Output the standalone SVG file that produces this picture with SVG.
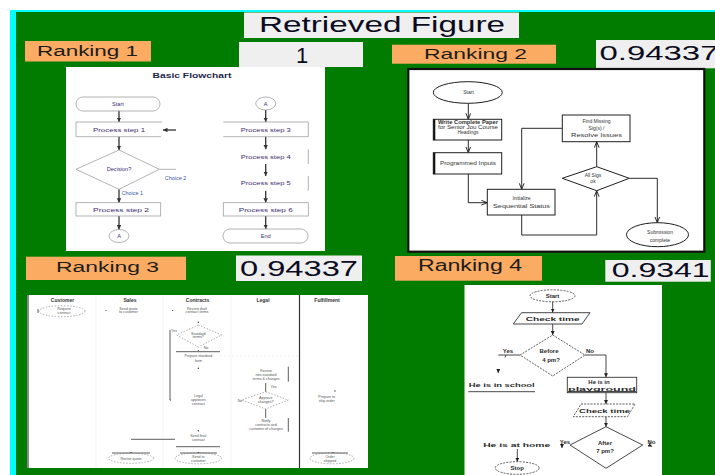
<svg xmlns="http://www.w3.org/2000/svg" width="715" height="475" viewBox="0 0 715 475">
<style>
  .sans { font-family: "Liberation Sans", Arial, "DejaVu Sans", sans-serif; }
  .hdr { fill: #efefef; }
  .rank { fill: #fbab62; }
  .rank-t { fill: #1c1c1c; }
  .score-t { fill: #0b0b20; }
  .panel { fill: #ffffff; }
  /* panel 1: basic flowchart */
  .p1-shape { fill: none; stroke: #a0a0a0; stroke-width: 0.8; }
  .p1-line { fill: none; stroke: #333333; stroke-width: 1.3; }
  .p1-t { font-size: 5.6px; fill: #3e2d72; text-anchor: middle; }
  .p1-c { font-size: 5.4px; fill: #3b55a8; }
  /* panel 2: review process */
  .p2-shape { fill: #ffffff; stroke: #1e1e1e; stroke-width: 1; }
  .p2-line { fill: none; stroke: #2a2a2a; stroke-width: 1; }
  .p2-t { font-size: 5px; fill: #333333; text-anchor: middle; }
  /* panel 3: swimlanes */
  .p3-h { font-size: 5px; font-weight: bold; fill: #333333; text-anchor: middle; }
  .p3-t { font-size: 3.6px; fill: #555555; text-anchor: middle; }
  .p3-dash { fill: none; stroke: #777777; stroke-width: 0.6; stroke-dasharray: 1.5 1.5; }
  .p3-line { fill: none; stroke: #333333; stroke-width: 0.8; }
  .p3-dot { fill: #333333; }
  /* panel 4: time check */
  .p4-shape { fill: none; stroke: #333333; stroke-width: 0.9; }
  .p4-dash { fill: none; stroke: #333333; stroke-width: 0.8; stroke-dasharray: 2 1.2; }
  .p4-line { fill: none; stroke: #333333; stroke-width: 0.9; }
  .p4-t { font-size: 6px; font-weight: bold; fill: #2a2a2a; text-anchor: middle; }
</style>
<defs>
  <marker id="ah1" viewBox="0 0 10 10" refX="10" refY="5" markerWidth="4.5" markerHeight="4.5" markerUnits="userSpaceOnUse" orient="auto">
    <path d="M0 0 L10 5 L0 10 z" fill="#333333"/>
  </marker>
  <marker id="ah2" viewBox="0 0 10 10" refX="10" refY="5" markerWidth="6" markerHeight="6" markerUnits="userSpaceOnUse" orient="auto">
    <path d="M0 1 L10 5 L0 9" fill="none" stroke="#222222" stroke-width="1.6"/>
  </marker>
  <marker id="ah4" viewBox="0 0 10 10" refX="10" refY="5" markerWidth="4" markerHeight="4" markerUnits="userSpaceOnUse" orient="auto">
    <path d="M0 0 L10 5 L0 10 z" fill="#222222"/>
  </marker>
</defs>

<!-- page frame -->
<rect x="0" y="0" width="715" height="475" fill="#ffffff"/>
<rect x="10" y="10" width="705" height="465" fill="#00ffff"/>
<rect x="16" y="12" width="699" height="463" fill="#017c01"/>

<!-- title and ranking labels -->
<g id="title">
  <rect class="hdr" x="244" y="12.5" width="275" height="25.5"/>
  <text class="sans score-t" x="259" y="31.8" font-size="22" textLength="246" lengthAdjust="spacingAndGlyphs">Retrieved Figure</text>
</g>
<g id="rank1">
  <rect class="rank" x="25" y="41" width="126" height="20.5"/>
  <text class="sans rank-t" x="37" y="56" font-size="15.5" textLength="101" lengthAdjust="spacingAndGlyphs">Ranking 1</text>
</g>
<g id="score1">
  <rect class="hdr" x="239" y="42" width="124" height="25"/>
  <text class="sans score-t" x="302" y="63.3" font-size="22" text-anchor="middle">1</text>
</g>
<g id="rank2">
  <rect class="rank" x="392" y="44.7" width="164" height="19"/>
  <text class="sans rank-t" x="424" y="59.3" font-size="14.5" textLength="103" lengthAdjust="spacingAndGlyphs">Ranking 2</text>
</g>
<g id="score2">
  <rect class="hdr" x="596" y="40" width="120" height="28.3"/>
  <text class="sans score-t" x="599.5" y="59.6" font-size="21" textLength="119" lengthAdjust="spacingAndGlyphs">0.94337</text>
</g>
<g id="rank3">
  <rect class="rank" x="26" y="256.7" width="160" height="23.3"/>
  <text class="sans rank-t" x="56" y="271.7" font-size="15.5" textLength="103" lengthAdjust="spacingAndGlyphs">Ranking 3</text>
</g>
<g id="score3">
  <rect class="hdr" x="236" y="255.5" width="126" height="25.5"/>
  <text class="sans score-t" x="240" y="275.7" font-size="22.5" textLength="118" lengthAdjust="spacingAndGlyphs">0.94337</text>
</g>
<g id="rank4">
  <rect class="rank" x="395" y="256" width="147" height="24.7"/>
  <text class="sans rank-t" x="418" y="270.7" font-size="16" textLength="104" lengthAdjust="spacingAndGlyphs">Ranking 4</text>
</g>
<g id="score4">
  <rect class="hdr" x="605.3" y="260" width="105.5" height="21.7"/>
  <text class="sans score-t" x="611.7" y="276.7" font-size="21" textLength="98" lengthAdjust="spacingAndGlyphs">0.9341</text>
</g>

<!-- ===== panel 1: Basic Flowchart ===== -->
<g id="panel1" class="sans">
  <rect class="panel" x="66" y="67" width="259" height="184"/>
  <text x="192" y="77.5" font-size="8" font-weight="bold" fill="#1d2a4a" text-anchor="middle" textLength="79" lengthAdjust="spacingAndGlyphs">Basic Flowchart</text>

  <g id="p1-connectors">
    <line class="p1-line" x1="119" y1="110.7" x2="119" y2="122" marker-end="url(#ah1)"/>
    <line class="p1-line" x1="176" y1="130" x2="163" y2="130" marker-end="url(#ah1)"/>
    <line class="p1-line" x1="119" y1="136.7" x2="119" y2="150" marker-end="url(#ah1)"/>
    <line class="p1-shape" x1="159.3" y1="169.3" x2="176" y2="169.3"/>
    <line class="p1-line" x1="119" y1="189.3" x2="119" y2="202.7" marker-end="url(#ah1)"/>
    <line class="p1-line" x1="119" y1="216" x2="119" y2="229.5" marker-end="url(#ah1)"/>
    <line class="p1-line" x1="265.7" y1="110" x2="265.7" y2="122" marker-end="url(#ah1)"/>
    <line class="p1-line" x1="265.7" y1="136.7" x2="265.7" y2="149.3" marker-end="url(#ah1)"/>
    <line class="p1-line" x1="265.7" y1="164" x2="265.7" y2="176" marker-end="url(#ah1)"/>
    <line class="p1-line" x1="265.7" y1="190.7" x2="265.7" y2="202.7" marker-end="url(#ah1)"/>
    <line class="p1-line" x1="265.7" y1="216" x2="265.7" y2="229" marker-end="url(#ah1)"/>
  </g>

  <g id="p1-start">
    <rect class="p1-shape" x="76" y="97" width="84" height="14" rx="7"/>
    <text class="p1-t" x="118" y="105.5" fill="#5a4fa0">Start</text>
  </g>
  <g id="p1-step1">
    <path class="p1-shape" d="M162 122 H76 V136.7 H161"/>
    <text class="p1-t" x="119" y="132" textLength="52" lengthAdjust="spacingAndGlyphs">Process step 1</text>
  </g>
  <g id="p1-decision">
    <path class="p1-shape" d="M119 150 L159.3 169.3 L119 189.3 L76 169.3 Z"/>
    <text class="p1-t" x="119" y="171.3">Decision?</text>
    <text class="p1-c" x="175.5" y="180" text-anchor="middle">Choice 2</text>
    <text class="p1-c" x="121.7" y="195">Choice 1</text>
  </g>
  <g id="p1-step2">
    <rect class="p1-shape" x="76" y="202.7" width="84.7" height="13.3"/>
    <text class="p1-t" x="121" y="211.5" textLength="56" lengthAdjust="spacingAndGlyphs">Process step 2</text>
  </g>
  <g id="p1-conn-a1">
    <ellipse class="p1-shape" cx="119" cy="236" rx="10" ry="6.5"/>
    <text class="p1-t" x="119" y="238">A</text>
  </g>
  <g id="p1-conn-a2">
    <ellipse class="p1-shape" cx="265.7" cy="103.5" rx="10" ry="6.5"/>
    <text class="p1-t" x="265.7" y="105.5">A</text>
  </g>
  <g id="p1-step3">
    <path class="p1-shape" d="M223.3 122 H308.3 V136.7 H223.3"/>
    <text class="p1-t" x="265.7" y="132" textLength="50" lengthAdjust="spacingAndGlyphs">Process step 3</text>
  </g>
  <g id="p1-step4">
    <line class="p1-shape" x1="308.3" y1="149.3" x2="308.3" y2="164"/>
    <text class="p1-t" x="265.7" y="158.7" textLength="50" lengthAdjust="spacingAndGlyphs">Process step 4</text>
  </g>
  <g id="p1-step5">
    <line class="p1-shape" x1="308.3" y1="176" x2="308.3" y2="190.7"/>
    <text class="p1-t" x="265.7" y="185.3" textLength="50" lengthAdjust="spacingAndGlyphs">Process step 5</text>
  </g>
  <g id="p1-step6">
    <rect class="p1-shape" x="223.3" y="202.7" width="85" height="13.3"/>
    <text class="p1-t" x="265.7" y="211.5" textLength="54" lengthAdjust="spacingAndGlyphs">Process step 6</text>
  </g>
  <g id="p1-end">
    <rect class="p1-shape" x="223" y="229" width="85" height="14" rx="7"/>
    <text class="p1-t" x="265.7" y="238">End</text>
  </g>
</g>

<!-- ===== panel 2: review process ===== -->
<g id="panel2" class="sans">
  <rect class="panel" x="408.3" y="69" width="296" height="182.7" stroke="#111111" stroke-width="2.2"/>

  <g id="p2-connectors">
    <line class="p2-line" x1="468.3" y1="103.3" x2="468.3" y2="119.3" marker-end="url(#ah2)"/>
    <line class="p2-line" x1="468.3" y1="140" x2="468.3" y2="152.7" marker-end="url(#ah2)"/>
    <polyline class="p2-line" points="468.3,174 468.3,202.7 487.3,202.7" marker-end="url(#ah2)"/>
    <polyline class="p2-line" points="521.7,215 521.7,235 596.7,235 596.7,190.7" marker-end="url(#ah2)"/>
    <line class="p2-line" x1="596.7" y1="166.7" x2="596.7" y2="141.7" marker-end="url(#ah2)"/>
    <polyline class="p2-line" points="562.3,128.3 521.7,128.3 521.7,189.3" marker-end="url(#ah2)"/>
    <polyline class="p2-line" points="629.3,178.3 657.3,178.3 657.3,222.7" marker-end="url(#ah2)"/>
  </g>

  <g id="p2-start">
    <ellipse class="p2-shape" cx="467.8" cy="92.5" rx="34.5" ry="10.8"/>
    <text class="p2-t" x="468.5" y="94.2">Start</text>
  </g>
  <g id="p2-write">
    <rect class="p2-shape" x="433.3" y="119.3" width="68.4" height="20.7"/>
    <line x1="434.3" y1="119.3" x2="434.3" y2="140" stroke="#111111" stroke-width="2"/>
    <text class="p2-t" x="468" y="124.2" font-size="4.4" font-weight="bold" textLength="60" lengthAdjust="spacingAndGlyphs">Write Complete Paper</text>
    <text class="p2-t" x="468" y="129.2" font-size="4.4" textLength="60" lengthAdjust="spacingAndGlyphs">for Senior Jou Course</text>
    <text class="p2-t" x="468" y="134.2" font-size="4.4">Headings</text>
  </g>
  <g id="p2-input">
    <rect class="p2-shape" x="433.3" y="152.7" width="68.4" height="21.3"/>
    <line x1="434.3" y1="152.7" x2="434.3" y2="174" stroke="#111111" stroke-width="2"/>
    <text class="p2-t" x="468" y="165.2" textLength="56" lengthAdjust="spacingAndGlyphs">Programmed Inputs</text>
  </g>
  <g id="p2-status">
    <rect class="p2-shape" x="487.3" y="189.3" width="67.7" height="25.7" stroke-width="2"/>
    <text class="p2-t" x="521.5" y="200">Initialize</text>
    <text class="p2-t" x="521.5" y="207.5" textLength="57" lengthAdjust="spacingAndGlyphs">Sequential Status</text>
  </g>
  <g id="p2-check">
    <path class="p2-shape" d="M596.7 166.7 L629.3 178.3 L596.7 190.7 L562.3 178.3 Z" stroke-width="1.4"/>
    <text class="p2-t" x="593" y="177.2">All Sigs</text>
    <text class="p2-t" x="593" y="183">ok</text>
  </g>
  <g id="p2-fix">
    <rect class="p2-shape" x="562.3" y="115" width="67.7" height="26.7" stroke-width="1.3"/>
    <text class="p2-t" x="596.5" y="123.2">Find Missing</text>
    <text class="p2-t" x="596.5" y="130.2">Sig(s) /</text>
    <text class="p2-t" x="596.5" y="137.2" textLength="51" lengthAdjust="spacingAndGlyphs">Resolve Issues</text>
  </g>
  <g id="p2-end">
    <ellipse class="p2-shape" cx="657.5" cy="234.7" rx="31" ry="12"/>
    <text class="p2-t" x="660" y="234">Submission</text>
    <text class="p2-t" x="660" y="241.5">complete</text>
  </g>
</g>

<!-- ===== panel 3: swimlane process ===== -->
<g id="panel3" class="sans">
  <rect class="panel" x="27" y="295" width="341" height="173"/>
  <line x1="28" y1="295" x2="28" y2="468" stroke="#8a8a8a" stroke-width="2"/>
  <g id="p3-lanes" stroke="#ececec" stroke-width="0.6">
    <line x1="96" y1="296" x2="96" y2="468"/>
    <line x1="163" y1="296" x2="163" y2="468"/>
    <line x1="231" y1="296" x2="231" y2="468"/>
  </g>
  <line x1="299.5" y1="295" x2="299.5" y2="468" stroke="#333333" stroke-width="1.2"/>
  <text class="p3-h" x="62.5" y="301.8">Customer</text>
  <text class="p3-h" x="130" y="301.8">Sales</text>
  <text class="p3-h" x="197.5" y="301.8">Contracts</text>
  <text class="p3-h" x="263" y="301.8">Legal</text>
  <text class="p3-h" x="327" y="301.8">Fulfillment</text>

  <g id="p3-connectors">
    <line class="p3-line" x1="170" y1="330" x2="170" y2="400" stroke-width="1.3"/>
    <line class="p3-line" x1="176" y1="351.7" x2="220" y2="351.7"/>
    <line x1="220" y1="356" x2="300" y2="356" stroke="#e2e2e2" stroke-width="0.6" stroke-dasharray="2 2"/>
    <line class="p3-line" x1="265.7" y1="391.7" x2="265.7" y2="383" stroke-width="1.2"/>
    <line class="p3-line" x1="265.7" y1="409" x2="265.7" y2="418" stroke-width="1.2"/>
    <line class="p3-line" x1="131" y1="439.3" x2="175" y2="439.3"/>
    <line class="p3-line" x1="176" y1="446.7" x2="220" y2="446.7"/>
    <line class="p3-line" x1="112" y1="453" x2="150" y2="453"/>
    <line class="p3-line" x1="180" y1="453" x2="217" y2="453"/>
    <line class="p3-line" x1="312" y1="453" x2="348" y2="453"/>
  </g>

  <g id="p3-request">
    <ellipse class="p3-dash" cx="62" cy="311.2" rx="23" ry="5.5"/>
    <line class="p3-line" x1="38" y1="309" x2="38" y2="313"/>
    <text class="p3-t" x="64" y="310.3">Request</text>
    <text class="p3-t" x="64" y="314.3">contract</text>
  </g>
  <g id="p3-quote">
    <circle class="p3-dot" cx="106" cy="310.5" r="0.6"/>
    <text class="p3-t" x="128.5" y="309.5">Send quote</text>
    <text class="p3-t" x="128.5" y="313.3">to customer</text>
  </g>
  <g id="p3-draft">
    <circle class="p3-dot" cx="172.7" cy="310.5" r="0.6"/>
    <text class="p3-t" x="197" y="309.5">Review draft</text>
    <text class="p3-t" x="197" y="313.3">contract terms</text>
  </g>
  <g id="p3-standard">
    <circle class="p3-dot" cx="198.3" cy="322.3" r="0.7"/>
    <path class="p3-dash" d="M198.3 325 L221.7 335 L198.3 347 L176.7 335 Z"/>
    <text class="p3-t" x="198.3" y="334.5">Standard</text>
    <text class="p3-t" x="198.3" y="338.3">terms?</text>
    <text class="p3-t" x="174" y="331.5">Yes</text>
    <text class="p3-t" x="206" y="348.5">No</text>
  </g>
  <g id="p3-form">
    <circle class="p3-dot" cx="198.3" cy="350.5" r="0.6"/>
    <text class="p3-t" x="198.3" y="357.3">Prepare standard</text>
    <text class="p3-t" x="198.3" y="361.5">form</text>
    <circle class="p3-dot" cx="198.3" cy="368.3" r="0.7"/>
  </g>
  <g id="p3-review">
    <line class="p3-line" x1="288.3" y1="366.7" x2="288.3" y2="381.7" stroke-width="1.2"/>
    <text class="p3-t" x="266" y="371.5">Review</text>
    <text class="p3-t" x="266" y="375.5">non-standard</text>
    <text class="p3-t" x="266" y="379.5">terms &amp; changes</text>
  </g>
  <g id="p3-approve">
    <path class="p3-dash" d="M265.7 391.7 L288.3 400 L265.7 409 L241.7 400 Z"/>
    <text class="p3-t" x="265.7" y="399.3">Approve</text>
    <text class="p3-t" x="265.7" y="403.3">changes?</text>
    <text class="p3-t" x="273.5" y="388">Yes</text>
    <text class="p3-t" x="240" y="401.5">No</text>
  </g>
  <g id="p3-notify">
    <line class="p3-line" x1="288.3" y1="418" x2="288.3" y2="431.7" stroke-width="1.2"/>
    <text class="p3-t" x="266" y="421.5">Notify</text>
    <text class="p3-t" x="266" y="425.5">contracts and</text>
    <text class="p3-t" x="266" y="429.5">customer of changes</text>
  </g>
  <g id="p3-legal-ok">
    <text class="p3-t" x="198.3" y="397">Legal</text>
    <text class="p3-t" x="198.3" y="401">approves</text>
    <text class="p3-t" x="198.3" y="405">contract</text>
    <circle class="p3-dot" cx="170.5" cy="400" r="0.6"/>
  </g>
  <g id="p3-ship">
    <circle class="p3-dot" cx="335" cy="391" r="0.7"/>
    <text class="p3-t" x="326.7" y="397.5">Prepare to</text>
    <text class="p3-t" x="326.7" y="401.5">ship order</text>
  </g>
  <g id="p3-final">
    <circle class="p3-dot" cx="198.3" cy="430.7" r="0.7"/>
    <text class="p3-t" x="198.3" y="437">Send final</text>
    <text class="p3-t" x="198.3" y="441">contract</text>
  </g>
  <g id="p3-revise">
    <circle class="p3-dot" cx="131" cy="452.5" r="0.6"/>
    <ellipse class="p3-dash" cx="131" cy="458.3" rx="22.5" ry="5"/>
    <text class="p3-t" x="131" y="459.5">Revise quote</text>
  </g>
  <g id="p3-send">
    <circle class="p3-dot" cx="198.3" cy="452.5" r="0.6"/>
    <ellipse class="p3-dash" cx="198.3" cy="458.3" rx="23.3" ry="5.5"/>
    <text class="p3-t" x="198.3" y="457.5">Send to</text>
    <text class="p3-t" x="198.3" y="461.5">customer</text>
  </g>
  <g id="p3-shipped">
    <circle class="p3-dot" cx="333" cy="452.5" r="0.6"/>
    <ellipse class="p3-dash" cx="332" cy="458.3" rx="22" ry="5.5"/>
    <text class="p3-t" x="330" y="457.5">Order</text>
    <text class="p3-t" x="330" y="461.5">shipped</text>
  </g>
</g>

<!-- ===== panel 4: time check flowchart ===== -->
<g id="panel4" class="sans">
  <rect class="panel" x="464.5" y="285" width="197.5" height="190"/>

  <g id="p4-connectors">
    <line class="p4-line" x1="552.7" y1="301.7" x2="552.7" y2="312.5" marker-end="url(#ah4)"/>
    <line class="p4-line" x1="552.7" y1="324" x2="552.7" y2="335" marker-end="url(#ah4)"/>
    <line class="p4-line" x1="520" y1="355" x2="498.3" y2="355"/>
    <line class="p4-line" x1="506" y1="355" x2="505" y2="357.5"/>
    <line class="p4-line" x1="498.3" y1="369" x2="498.3" y2="373" marker-end="url(#ah4)"/>
    <polyline class="p4-line" points="585,355 606,355 606,377.3" marker-end="url(#ah4)"/>
    <line class="p4-line" x1="606" y1="392.7" x2="606" y2="404" marker-end="url(#ah4)"/>
    <line class="p4-line" x1="606" y1="416.7" x2="606" y2="426.7" marker-end="url(#ah4)"/>
    <line class="p4-line" x1="562" y1="445.5" x2="562" y2="448" marker-end="url(#ah4)"/>
    <line class="p4-line" x1="650" y1="445.5" x2="652" y2="446.5" marker-end="url(#ah4)"/>
    <line class="p4-line" x1="517.3" y1="449" x2="517.3" y2="461.7" marker-end="url(#ah4)"/>
  </g>

  <g id="p4-start">
    <ellipse class="p4-dash" cx="552.5" cy="295.8" rx="22.5" ry="6"/>
    <text class="p4-t" x="552.5" y="297.8" font-size="5">Start</text>
  </g>
  <g id="p4-check1">
    <path class="p4-shape" d="M521.5 312.7 H590 L582 324 H513.3 Z"/>
    <text class="p4-t" x="552.7" y="320.5" textLength="54" lengthAdjust="spacingAndGlyphs">Check time</text>
  </g>
  <g id="p4-before">
    <path class="p4-dash" d="M552.7 335 L585 355 L552.7 376 L520 355 Z"/>
    <text class="p4-t" x="549" y="353" font-size="5.5">Before</text>
    <text class="p4-t" x="551" y="361.5" font-size="5.5">4 pm?</text>
    <text class="p4-t" x="508" y="352.5" font-size="4.5">Yes</text>
    <text class="p4-t" x="590" y="352.5" font-size="4.5">No</text>
  </g>
  <g id="p4-school">
    <text class="p4-t" x="501.7" y="387.3" font-size="5.4" textLength="66" lengthAdjust="spacingAndGlyphs">He is in school</text>
    <line class="p4-line" x1="468.3" y1="391.7" x2="535" y2="391.7"/>
  </g>
  <g id="p4-playground">
    <rect class="p4-shape" x="567.3" y="377.3" width="69.4" height="15.4"/>
    <text class="p4-t" x="599" y="384" font-size="5.8">He is in</text>
    <text class="p4-t" x="602" y="390.8" font-size="5.8" textLength="68" lengthAdjust="spacingAndGlyphs">playground</text>
    <line class="p4-line" x1="568" y1="391.5" x2="636" y2="391.5" stroke-width="0.6"/>
  </g>
  <g id="p4-check2">
    <path class="p4-dash" d="M581 404 H635 L627.5 416.7 H573.3 Z"/>
    <text class="p4-t" x="604.5" y="412.5" textLength="51" lengthAdjust="spacingAndGlyphs" font-weight="normal">Check time</text>
  </g>
  <g id="p4-after">
    <path class="p4-shape" d="M606 426.7 L642.7 445 L606 468.3 L570 445 Z"/>
    <text class="p4-t" x="605" y="444.7" font-size="6.3">After</text>
    <text class="p4-t" x="605" y="453" font-size="6.3">7 pm?</text>
    <text class="p4-t" x="565" y="444" font-size="4.5">Yes</text>
    <text class="p4-t" x="651.5" y="444" font-size="4.5">No</text>
  </g>
  <g id="p4-home">
    <text class="p4-t" x="516.7" y="446.5" font-size="6.5" textLength="67" lengthAdjust="spacingAndGlyphs">He is at home</text>
  </g>
  <g id="p4-stop">
    <ellipse class="p4-dash" cx="517.2" cy="468" rx="22" ry="6.3"/>
    <text class="p4-t" x="517.2" y="470" font-size="5">Stop</text>
  </g>
</g>
</svg>
